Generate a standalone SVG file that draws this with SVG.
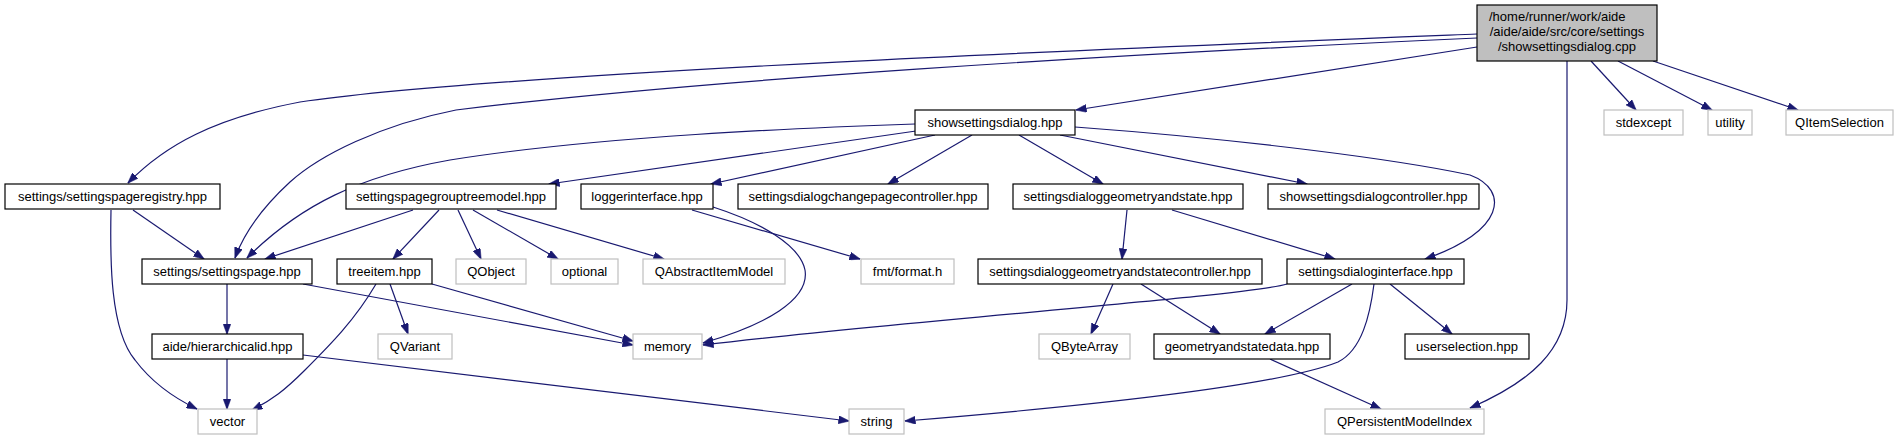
<svg xmlns="http://www.w3.org/2000/svg" width="1903" height="440" viewBox="0 0 1903 440">
<style>
  .n rect { fill: #ffffff; stroke: #000000; stroke-width: 1.2; }
  .g rect { fill: #ffffff; stroke: #bfbfbf; stroke-width: 1.2; }
  .root rect { fill: #bfbfbf; stroke: #000000; stroke-width: 1.2; }
  text { font-family: "Liberation Sans", Arial, sans-serif; font-size: 13px; fill: #000000; text-anchor: middle; }
  .e path { fill: none; stroke: #191970; stroke-width: 1.2; marker-end: url(#arr); }
</style>
<defs>
  <marker id="arr" markerUnits="userSpaceOnUse" markerWidth="11" markerHeight="8" viewBox="0 0 11 8" refX="10.5" refY="4" orient="auto">
    <path d="M0,0 L11,4 L0,8 z" fill="#191970" stroke="#191970" stroke-width="0.5"/>
  </marker>
</defs>
<rect width="1903" height="440" fill="#ffffff"/>

<g id="edges" class="e">
  <path d="M1477,47 L1076,110"/>
  <path d="M1477,34 C1200,45 500,72 300,102 C215,118 165,145 128,183"/>
  <path d="M1477,38 C1100,55 700,80 456,110 C380,125 320,155 290,182 C265,205 245,230 235,258"/>
  <path d="M1567,61 L1567,300 C1567,350 1530,382 1470,408"/>
  <path d="M1591,61 L1636,110"/>
  <path d="M1618,61 L1712,110"/>
  <path d="M1653,61 L1798,110"/>
  <path d="M915,124 C800,128 600,136 450,160 C360,176 300,205 247,258"/>
  <path d="M916,131 L549,184"/>
  <path d="M935,135 L711,184"/>
  <path d="M972,135 L888,184"/>
  <path d="M1019,135 L1103,184"/>
  <path d="M1060,135 L1307,184"/>
  <path d="M1075,127 C1250,140 1400,160 1470,175 C1510,190 1505,232 1425,259"/>
  <path d="M133,210 L204,259"/>
  <path d="M111,210 C110,260 110,330 135,360 C150,380 170,396 197,409"/>
  <path d="M413,210 L265,259"/>
  <path d="M439,210 L393,259"/>
  <path d="M458,210 L481,259"/>
  <path d="M473,210 L558,259"/>
  <path d="M497,210 L664,259"/>
  <path d="M692,210 L860,259"/>
  <path d="M713,207 C760,222 800,245 805,270 C810,300 765,325 703,343"/>
  <path d="M1127,210 L1122,259"/>
  <path d="M1172,210 L1335,259"/>
  <path d="M227,284 L227,334"/>
  <path d="M303,284 L633,345"/>
  <path d="M376,284 C355,320 330,345 305,370 C285,390 272,400 252,410"/>
  <path d="M390,284 L408,334"/>
  <path d="M432,284 L633,341"/>
  <path d="M1113,284 L1091,334"/>
  <path d="M1141,284 L1220,334"/>
  <path d="M1352,284 L1265,334"/>
  <path d="M1287,284 C1250,296 900,321 703,345"/>
  <path d="M1390,284 L1452,334"/>
  <path d="M1374,284 C1370,315 1362,350 1338,362 C1280,385 1100,405 905,421"/>
  <path d="M227,359 L227,409"/>
  <path d="M303,355 L849,421"/>
  <path d="M1270,359 L1381,409"/>
</g>

<g id="node-root" class="root">
  <rect x="1477" y="5" width="180" height="56"/>
  <text x="1489" y="21" style="text-anchor:start">/home/runner/work/aide</text>
  <text x="1567" y="36">/aide/aide/src/core/settings</text>
  <text x="1567" y="51">/showsettingsdialog.cpp</text>
</g>
<g id="node-showsettingsdialog-hpp" class="n"><rect x="915" y="110" width="160" height="25"/><text x="995" y="127">showsettingsdialog.hpp</text></g>
<g id="node-stdexcept" class="g"><rect x="1604" y="110" width="79" height="25"/><text x="1643.5" y="127">stdexcept</text></g>
<g id="node-utility" class="g"><rect x="1708" y="110" width="44" height="25"/><text x="1730" y="127">utility</text></g>
<g id="node-qitemselection" class="g"><rect x="1786" y="110" width="107" height="25"/><text x="1839.5" y="127">QItemSelection</text></g>

<g id="node-settingspageregistry" class="n"><rect x="5" y="184" width="215" height="25"/><text x="112.5" y="201">settings/settingspageregistry.hpp</text></g>
<g id="node-settingspagegrouptreemodel" class="n"><rect x="346" y="184" width="210" height="25"/><text x="451" y="201">settingspagegrouptreemodel.hpp</text></g>
<g id="node-loggerinterface" class="n"><rect x="581" y="184" width="132" height="25"/><text x="647" y="201">loggerinterface.hpp</text></g>
<g id="node-changepagecontroller" class="n"><rect x="738" y="184" width="250" height="25"/><text x="863" y="201">settingsdialogchangepagecontroller.hpp</text></g>
<g id="node-geometryandstate" class="n"><rect x="1013" y="184" width="230" height="25"/><text x="1128" y="201">settingsdialoggeometryandstate.hpp</text></g>
<g id="node-showsettingsdialogcontroller" class="n"><rect x="1268" y="184" width="211" height="25"/><text x="1373.5" y="201">showsettingsdialogcontroller.hpp</text></g>

<g id="node-settingspage" class="n"><rect x="142" y="259" width="170" height="25"/><text x="227" y="276">settings/settingspage.hpp</text></g>
<g id="node-treeitem" class="n"><rect x="337" y="259" width="95" height="25"/><text x="384.5" y="276">treeitem.hpp</text></g>
<g id="node-qobject" class="g"><rect x="456" y="259" width="70" height="25"/><text x="491" y="276">QObject</text></g>
<g id="node-optional" class="g"><rect x="551" y="259" width="67" height="25"/><text x="584.5" y="276">optional</text></g>
<g id="node-qabstractitemmodel" class="g"><rect x="643" y="259" width="142" height="25"/><text x="714" y="276">QAbstractItemModel</text></g>
<g id="node-fmt-format" class="g"><rect x="861" y="259" width="93" height="25"/><text x="907.5" y="276">fmt/format.h</text></g>
<g id="node-geometryandstatecontroller" class="n"><rect x="978" y="259" width="284" height="25"/><text x="1120" y="276">settingsdialoggeometryandstatecontroller.hpp</text></g>
<g id="node-settingsdialoginterface" class="n"><rect x="1287" y="259" width="177" height="25"/><text x="1375.5" y="276">settingsdialoginterface.hpp</text></g>

<g id="node-hierarchicalid" class="n"><rect x="152" y="334" width="151" height="25"/><text x="227.5" y="351">aide/hierarchicalid.hpp</text></g>
<g id="node-qvariant" class="g"><rect x="378" y="334" width="74" height="25"/><text x="415" y="351">QVariant</text></g>
<g id="node-memory" class="g"><rect x="633" y="334" width="69" height="25"/><text x="667.5" y="351">memory</text></g>
<g id="node-qbytearray" class="g"><rect x="1039" y="334" width="91" height="25"/><text x="1084.5" y="351">QByteArray</text></g>
<g id="node-geometryandstatedata" class="n"><rect x="1154" y="334" width="176" height="25"/><text x="1242" y="351">geometryandstatedata.hpp</text></g>
<g id="node-userselection" class="n"><rect x="1405" y="334" width="124" height="25"/><text x="1467" y="351">userselection.hpp</text></g>

<g id="node-vector" class="g"><rect x="198" y="409" width="59" height="25"/><text x="227.5" y="426">vector</text></g>
<g id="node-string" class="g"><rect x="849" y="409" width="55" height="25"/><text x="876.5" y="426">string</text></g>
<g id="node-qpersistentmodelindex" class="g"><rect x="1325" y="409" width="159" height="25"/><text x="1404.5" y="426">QPersistentModelIndex</text></g>
</svg>
